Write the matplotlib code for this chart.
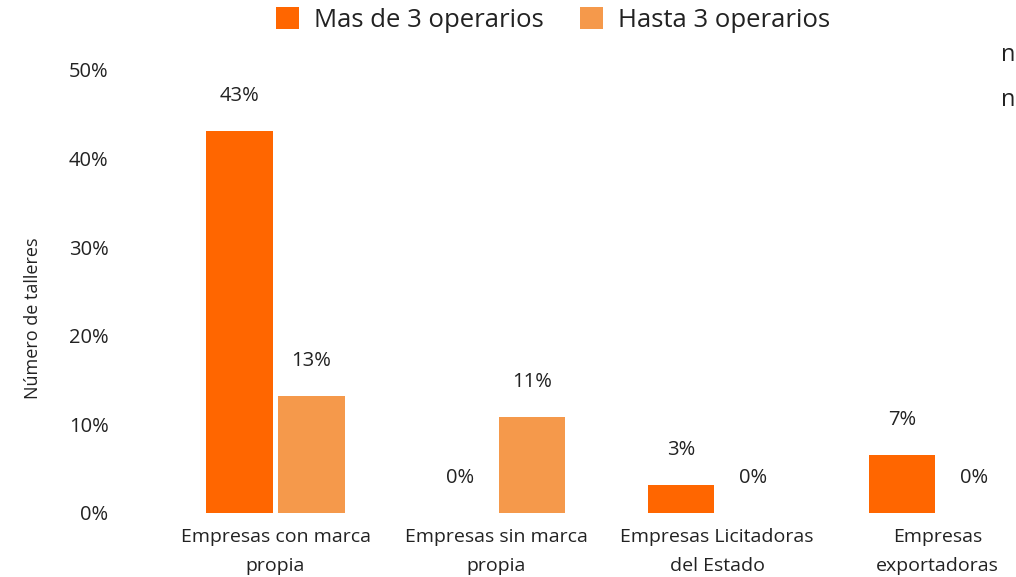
#!/usr/bin/env python3
"""Bar chart: share of workshops by client type, split by workshop size"""

import matplotlib.pyplot as plt
import numpy as np

plt.rcParams["font.family"] = ["Open Sans", "DejaVu Sans"]

CATEGORIES = [
    "Empresas con marca\npropia",
    "Empresas sin marca\npropia",
    "Empresas Licitadoras\ndel Estado",
    "Empresas\nexportadoras",
]
SERIES = ["Mas de 3 operarios", "Hasta 3 operarios"]
MAS_DE_3 = [43.1, 0.0, 3.2, 6.5]
HASTA_3 = [13.2, 10.8, 0.0, 0.0]
LABELS_MAS = ["43%", "0%", "3%", "7%"]
LABELS_HASTA = ["13%", "11%", "0%", "0%"]
Y_TICKS = [0, 10, 20, 30, 40, 50]

COLORS = ["#FF6600", "#F5994B"]
TEXT = "#222222"

fig = plt.figure(figsize=(10.16, 5.77), dpi=100)
ax = fig.add_axes([0.130, 0.111, 0.869, 0.768])

x = np.arange(len(CATEGORIES))
width = 0.30
offset = 0.163

for vals, labels, color, sign, name in (
    (MAS_DE_3, LABELS_MAS, COLORS[0], -1, SERIES[0]),
    (HASTA_3, LABELS_HASTA, COLORS[1], 1, SERIES[1]),
):
    xs = x + sign * offset
    ax.bar(xs, vals, width=width, color=color, label=name)
    for xi, v, lab in zip(xs, vals, labels):
        ax.annotate(lab, (xi, v), xytext=(0, 35), textcoords="offset pixels",
                    ha="center", va="center", fontsize=14.5, color=TEXT)

ax.set_xlim(-0.65, 3.35)
ax.set_ylim(0, 50)
ax.set_yticks(Y_TICKS)
ax.set_yticklabels([f"{t}%" for t in Y_TICKS], fontsize=14.5, color=TEXT)
ax.set_xticks(x)
ax.set_xticklabels(CATEGORIES, fontsize=14, color=TEXT, linespacing=1.75)
ax.tick_params(axis="both", length=0)
ax.tick_params(axis="x", pad=11)
ax.tick_params(axis="y", pad=17)
for side in ax.spines.values():
    side.set_visible(False)

fig.text(33 / 1016, 1 - 318 / 577, "Número de talleres", rotation=90,
         ha="center", va="center", fontsize=13, color=TEXT)

fig.legend(loc="center", bbox_to_anchor=(553 / 1016, 1 - 20 / 577), ncol=2,
           frameon=False, fontsize=18.5, handlelength=0.9, handleheight=0.9,
           handletextpad=0.6, columnspacing=1.4, labelcolor=TEXT)

# partly visible slide text at the right edge
fig.text(1001 / 1016, 1 - 55 / 577, "n", ha="left", va="center", fontsize=17, color=TEXT)
fig.text(1001 / 1016, 1 - 100 / 577, "n", ha="left", va="center", fontsize=17, color=TEXT)

fig.savefig("out.png", dpi=100)
